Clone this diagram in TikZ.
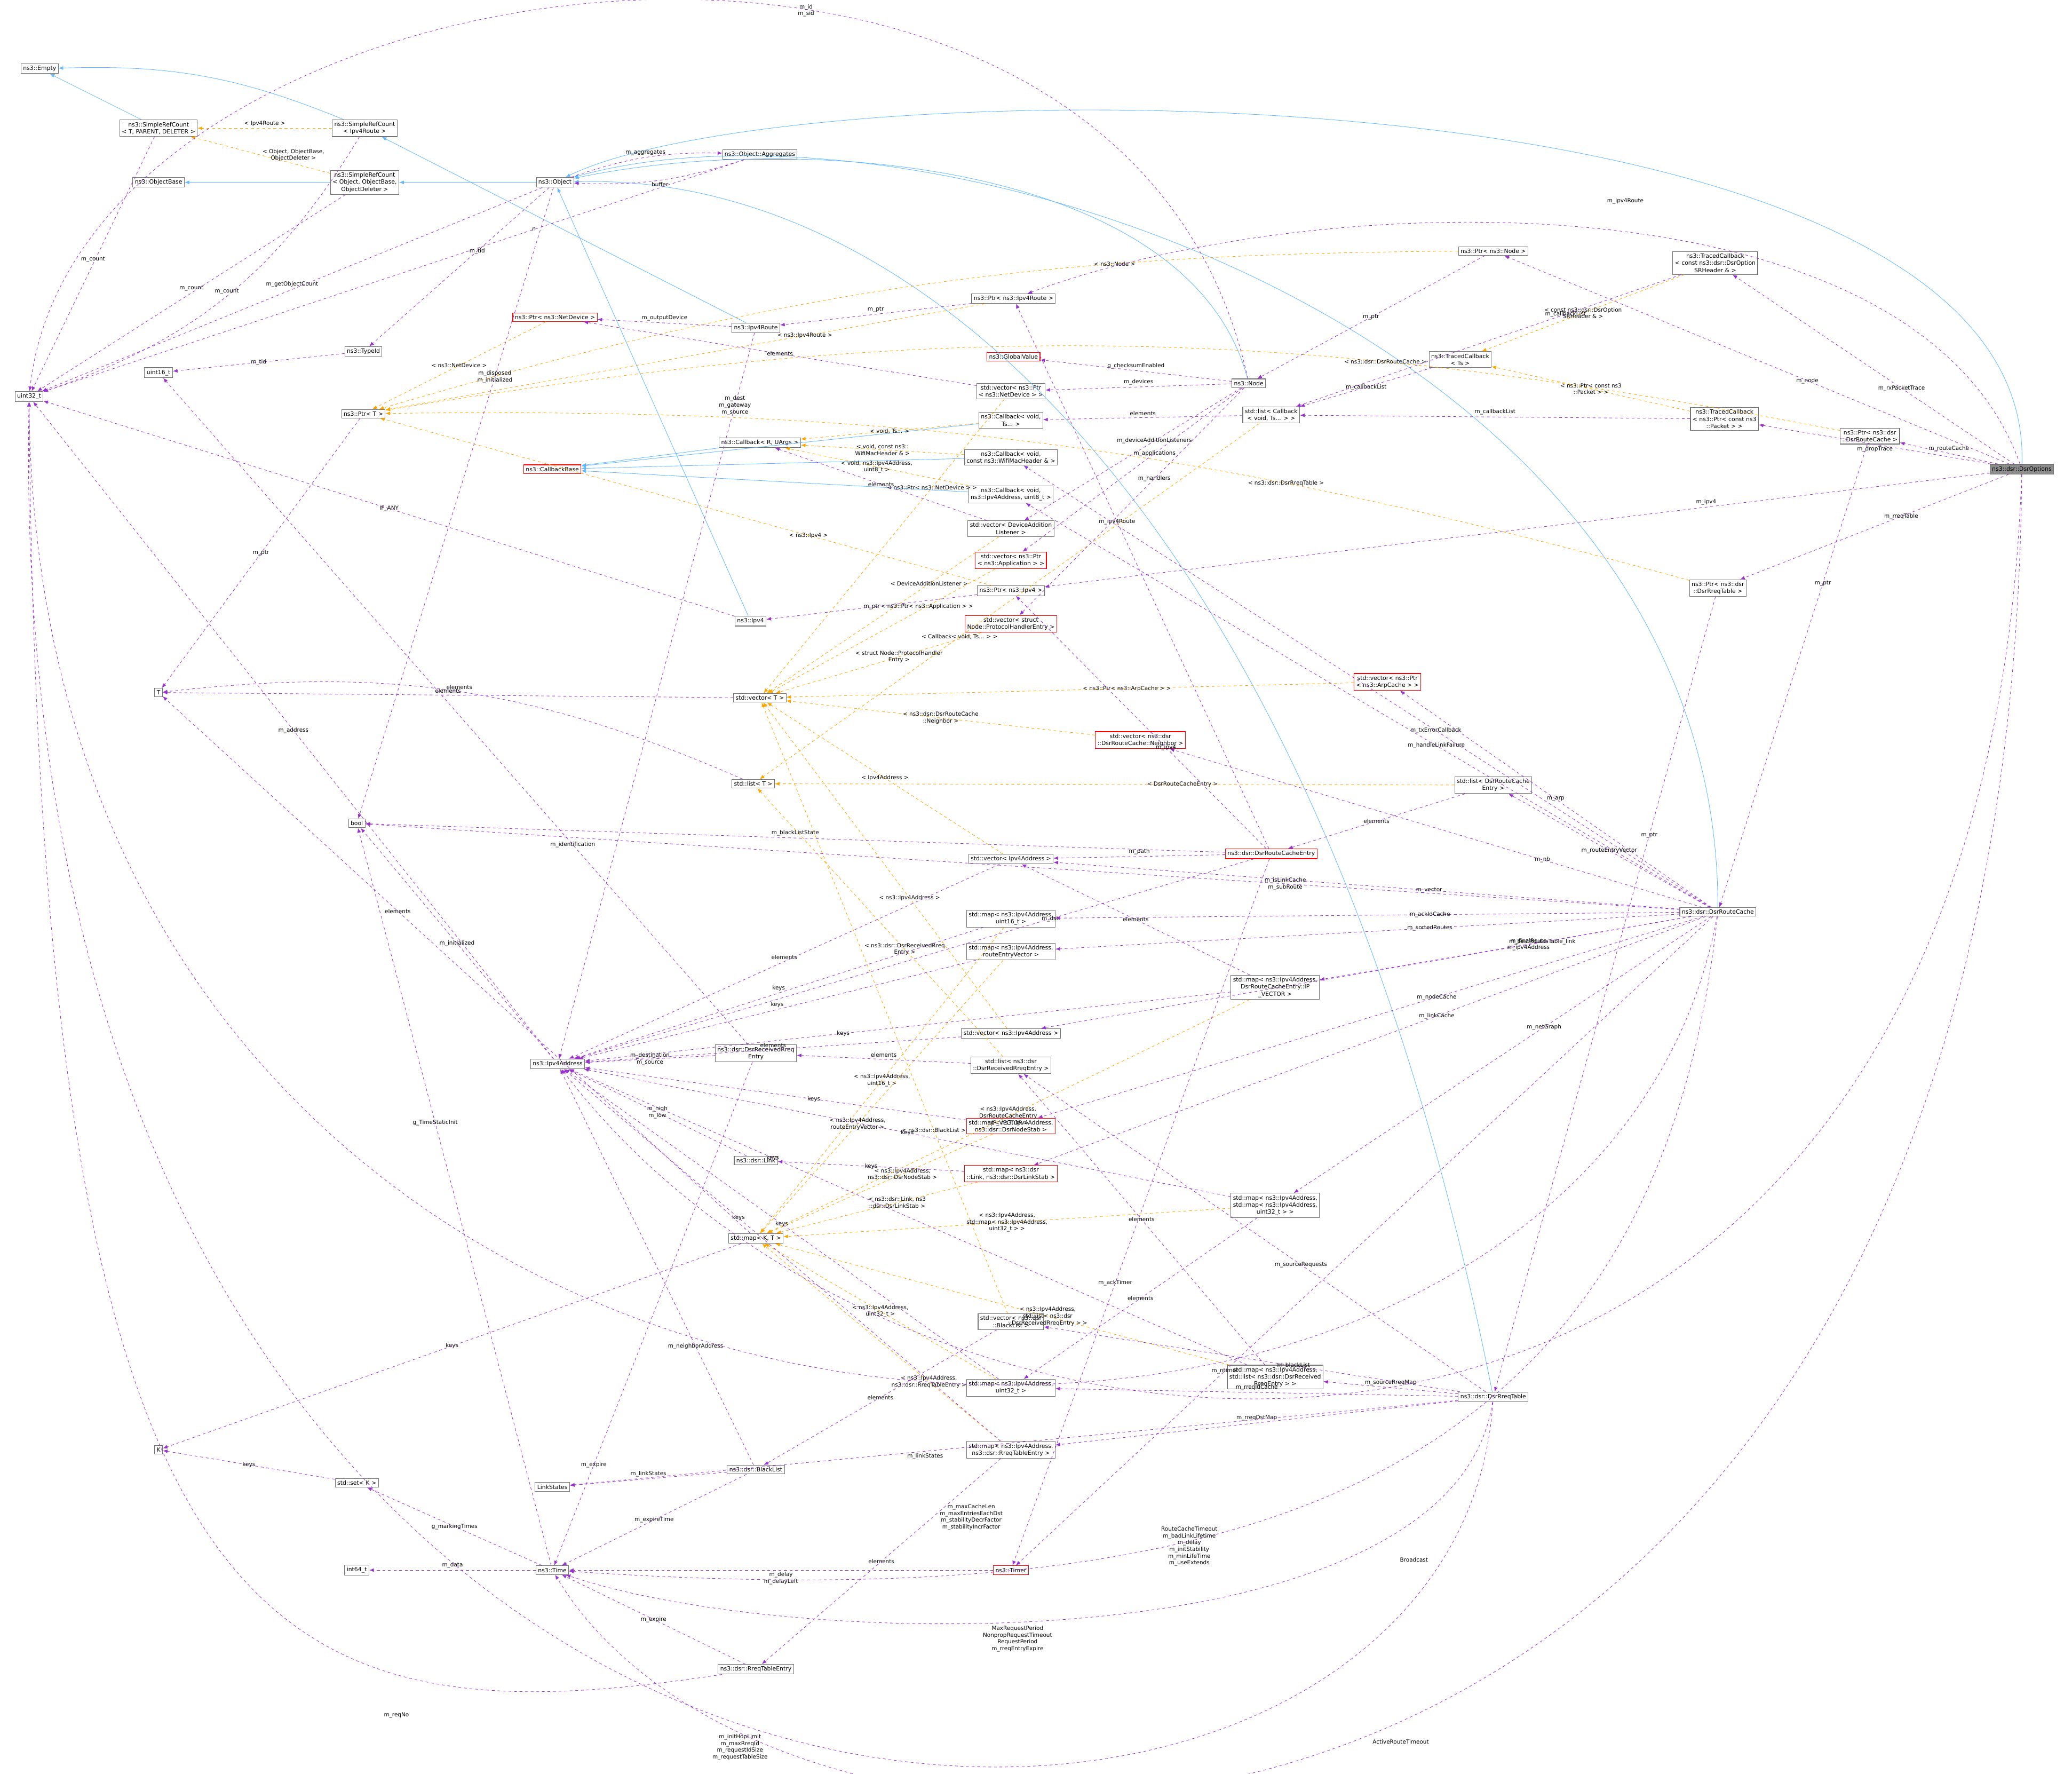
\documentclass[tikz,border=0pt]{standalone}
\usepackage{fontspec}
\setmainfont{DejaVu Sans}
\usetikzlibrary{arrows.meta,positioning}
\definecolor{memc}{HTML}{9A32CD}
\definecolor{tplc}{HTML}{FFA500}
\definecolor{inhc}{HTML}{63B8FF}
\tikzset{
  cls/.style={draw=black!55, line width=0.25pt, fill=white, inner sep=0.9pt, align=center, font=\fontsize{2.5}{3.05}\selectfont},
  redcls/.style={cls, draw=red},
  mem/.style={draw=memc, line width=0.2pt, dash pattern=on 1.2pt off 1.2pt, -{Latex[length=2pt,width=1.6pt]}},
  tpl/.style={draw=tplc, line width=0.2pt, dash pattern=on 1.2pt off 1.2pt, -{Latex[length=2pt,width=1.6pt]}},
  inh/.style={draw=inhc, line width=0.2pt, -{Latex[length=2pt,width=1.6pt]}},
  freelbl/.style={fill=none, inner sep=0.8pt, align=center, font=\fontsize{2.4}{2.9}\selectfont, text=black},
  lbl/.style={midway, freelbl}
}
\begin{document}
\begin{tikzpicture}[x=0.02cm, y=-0.02cm]
\useasboundingbox (0,0) rectangle (1568,1342);
% left column
\node[cls] (empty) at (30,52) {ns3::Empty};
\node[cls] (srcT) at (120,97) {ns3::SimpleRefCount\\< T, PARENT, DELETER >};
\node[cls] (srcRoute) at (276,97) {ns3::SimpleRefCount\\< Ipv4Route >};
\node[cls] (objbase) at (120,138) {ns3::ObjectBase};
\node[cls] (srcObj) at (276,138) {ns3::SimpleRefCount\\< Object, ObjectBase,\\ObjectDeleter >};
\node[cls] (uint) at (22,300) {uint32\_t};
\node[cls] (uintsixteen) at (120,282) {uint16\_t};
\node[cls] (T) at (120,524) {T};
\node[cls] (K) at (120,1097) {K};
\node[cls] (setK) at (270,1122) {std::set< K >};
\node[cls] (int64) at (270,1188) {int64\_t};
\node[cls] (typeid) at (275,266) {ns3::TypeId};
\node[cls] (ptrT) at (275,313) {ns3::Ptr< T >};
\node[cls] (bool) at (270,623) {bool};
% second column
\node[cls] (object) at (420,138) {ns3::Object};
\node[redcls] (ptrDev) at (420,240) {ns3::Ptr< ns3::NetDevice >};
\node[redcls] (cbBase) at (418,355) {ns3::CallbackBase};
\node[cls] (addr) at (422,805) {ns3::Ipv4Address};
\node[cls] (linkstates) at (418,1125) {LinkStates};
\node[cls] (time) at (418,1188) {ns3::Time};
% third column
\node[cls] (aggr) at (575,117) {ns3::Object::Aggregates};
\node[cls] (ipvRoute) at (572,248) {ns3::Ipv4Route};
\node[cls] (cbR) at (575,335) {ns3::Callback< R, UArgs >};
\node[cls] (ipv) at (568,470) {ns3::Ipv4};
\node[cls] (vecT) at (575,528) {std::vector< T >};
\node[cls] (listT) at (570,593) {std::list< T >};
\node[cls] (rreqEntry) at (572,797) {ns3::dsr::DsrReceivedRreq\\Entry};
\node[cls] (link) at (572,878) {ns3::dsr::Link};
\node[cls] (mapKT) at (572,937) {std::map< K, T >};
\node[cls] (blacklist) at (572,1112) {ns3::dsr::BlackList};
\node[cls] (rreqTE) at (572,1263) {ns3::dsr::RreqTableEntry};
% fourth column
\node[cls] (ptrRoute) at (767,226) {ns3::Ptr< ns3::Ipv4Route >};
\node[redcls] (globalv) at (767,270) {ns3::GlobalValue};
\node[cls] (vecDev) at (765,296) {std::vector< ns3::Ptr\\< ns3::NetDevice > >};
\node[cls] (cbVoid) at (765,318) {ns3::Callback< void,\\Ts... >};
\node[cls] (cbWifi) at (765,346) {ns3::Callback< void,\\const ns3::WifiMacHeader \& >};
\node[cls] (cbIpv) at (765,374) {ns3::Callback< void,\\ns3::Ipv4Address, uint8\_t >};
\node[cls] (vecListener) at (765,400) {std::vector< DeviceAddition\\Listener >};
\node[redcls] (vecApp) at (765,424) {std::vector< ns3::Ptr\\< ns3::Application > >};
\node[cls] (ptrIpv) at (765,447) {ns3::Ptr< ns3::Ipv4 >};
\node[redcls] (vecHandler) at (765,472) {std::vector< struct\\Node::ProtocolHandlerEntry >};
\node[cls] (vecAddr) at (765,650) {std::vector< Ipv4Address >};
\node[cls] (mapId) at (765,695) {std::map< ns3::Ipv4Address,\\uint16\_t >};
\node[cls] (mapSorted) at (765,720) {std::map< ns3::Ipv4Address,\\routeEntryVector >};
\node[cls] (vecAddr2) at (765,782) {std::vector< ns3::Ipv4Address >};
\node[cls] (listRreq) at (765,806) {std::list< ns3::dsr\\::DsrReceivedRreqEntry >};
\node[redcls] (mapNode) at (765,852) {std::map< ns3::Ipv4Address,\\ns3::dsr::DsrNodeStab >};
\node[redcls] (mapLink) at (765,888) {std::map< ns3::dsr\\::Link, ns3::dsr::DsrLinkStab >};
\node[cls] (vecBlack) at (765,1000) {std::vector< ns3::dsr\\::BlackList >};
\node[cls] (mapUint) at (765,1050) {std::map< ns3::Ipv4Address,\\uint32\_t >};
\node[cls] (mapRreq) at (765,1097) {std::map< ns3::Ipv4Address,\\ns3::dsr::RreqTableEntry >};
\node[redcls] (timer) at (765,1188) {ns3::Timer};
% fifth column
\node[cls] (node) at (945,290) {ns3::Node};
\node[cls] (listCb) at (962,314) {std::list< Callback\\< void, Ts... > >};
\node[redcls] (vecNb) at (863,560) {std::vector< ns3::dsr\\::DsrRouteCache::Neighbor >};
\node[redcls] (entry) at (962,646) {ns3::dsr::DsrRouteCacheEntry};
\node[cls] (mapIpvec) at (965,747) {std::map< ns3::Ipv4Address,\\DsrRouteCacheEntry::IP\\\_VECTOR >};
\node[cls] (mapNet) at (965,912) {std::map< ns3::Ipv4Address,\\std::map< ns3::Ipv4Address,\\uint32\_t > >};
\node[cls] (mapSrc) at (965,1042) {std::map< ns3::Ipv4Address,\\std::list< ns3::dsr::DsrReceived\\RreqEntry > >};
\node[redcls] (vecArp) at (1050,516) {std::vector< ns3::Ptr\\< ns3::ArpCache > >};
% right columns
\node[cls] (ptrNode) at (1130,190) {ns3::Ptr< ns3::Node >};
\node[cls] (tcTs) at (1105,272) {ns3::TracedCallback\\< Ts >};
\node[cls] (listEntry) at (1130,594) {std::list< DsrRouteCache\\Entry >};
\node[cls] (rreqTable) at (1130,1057) {ns3::dsr::DsrRreqTable};
\node[cls] (tcOpt) at (1298,199) {ns3::TracedCallback\\< const ns3::dsr::DsrOption\\SRHeader \& >};
\node[cls] (tcPkt) at (1305,317) {ns3::TracedCallback\\< ns3::Ptr< const ns3\\::Packet > >};
\node[cls] (ptrRreq) at (1300,445) {ns3::Ptr< ns3::dsr\\::DsrRreqTable >};
\node[cls] (cache) at (1300,690) {ns3::dsr::DsrRouteCache};
\node[cls] (ptrCache) at (1415,330) {ns3::Ptr< ns3::dsr\\::DsrRouteCache >};
\node[cls, fill=black!45] (options) at (1530,355) {ns3::dsr::DsrOptions};
% inheritance
\draw[inh] (srcT) -- (empty);
\draw[inh] (srcRoute) to[bend right=12] (empty);
\draw[inh] (srcObj) -- (objbase);
\draw[inh] (object) -- (srcObj);
\draw[inh] (ipvRoute) -- (srcRoute);
\draw[inh] (ipv) -- (object);
\draw[inh] (node) .. controls (900,120) and (600,100) .. (object);
\draw[inh] (cache) .. controls (1300,250) and (700,60) .. (object);
\draw[inh] (rreqTable) .. controls (1000,400) and (700,130) .. (object);
\draw[inh] (options) .. controls (1540,40) and (600,50) .. (object);
\draw[inh] (cbR) -- (cbBase);
\draw[inh] (cbVoid) -- (cbBase);
\draw[inh] (cbWifi) -- (cbBase);
\draw[inh] (cbIpv) -- (cbBase);
% templates
\draw[tpl] (srcRoute) -- (srcT) node[lbl, above]{< Ipv4Route >};
\draw[tpl] (srcObj) -- (srcT) node[lbl, right]{< Object, ObjectBase,\\ObjectDeleter >};
\draw[tpl] (ptrDev) -- (ptrT) node[lbl]{< ns3::NetDevice >};
\draw[tpl] (ptrRoute) -- (ptrT) node[lbl, pos=.3]{< ns3::Ipv4Route >};
\draw[tpl] (ptrNode) to[bend right=8] node[lbl, pos=.3]{< ns3::Node >} (ptrT);
\draw[tpl] (ptrIpv) -- (ptrT) node[lbl, pos=.3]{< ns3::Ipv4 >};
\draw[tpl] (ptrCache) to[bend right=10] node[lbl, pos=.3]{< ns3::dsr::DsrRouteCache >} (ptrT);
\draw[tpl] (ptrRreq) to[bend right=8] node[lbl, pos=.3]{< ns3::dsr::DsrRreqTable >} (ptrT);
\draw[tpl] (cbVoid) -- (cbR) node[lbl]{< void, Ts... >};
\draw[tpl] (cbWifi) -- (cbR) node[lbl]{< void, const ns3::\\WifiMacHeader \& >};
\draw[tpl] (cbIpv) -- (cbR) node[lbl]{< void, ns3::Ipv4Address,\\uint8\_t >};
\draw[tpl] (vecDev) -- (vecT) node[lbl, pos=.3]{< ns3::Ptr< ns3::NetDevice > >};
\draw[tpl] (vecListener) -- (vecT) node[lbl, pos=.3]{< DeviceAdditionListener >};
\draw[tpl] (vecApp) -- (vecT) node[lbl, pos=.3]{< ns3::Ptr< ns3::Application > >};
\draw[tpl] (vecHandler) -- (vecT) node[lbl, pos=.4]{< struct Node::ProtocolHandler\\Entry >};
\draw[tpl] (vecArp) -- (vecT) node[lbl, pos=.4]{< ns3::Ptr< ns3::ArpCache > >};
\draw[tpl] (vecNb) -- (vecT) node[lbl, pos=.5]{< ns3::dsr::DsrRouteCache\\::Neighbor >};
\draw[tpl] (vecAddr) -- (vecT) node[lbl, pos=.5]{< Ipv4Address >};
\draw[tpl] (vecAddr2) -- (vecT) node[lbl, pos=.4]{< ns3::Ipv4Address >};
\draw[tpl] (vecBlack) -- (vecT) node[lbl, pos=.3]{< ns3::dsr::BlackList >};
\draw[tpl] (listCb) -- (listT) node[lbl, pos=.6]{< Callback< void, Ts... > >};
\draw[tpl] (listEntry) -- (listT) node[lbl, pos=.4]{< DsrRouteCacheEntry >};
\draw[tpl] (listRreq) -- (listT) node[lbl, pos=.4]{< ns3::dsr::DsrReceivedRreq\\Entry >};
\draw[tpl] (tcOpt) -- (tcTs) node[lbl]{< const ns3::dsr::DsrOption\\SRHeader \& >};
\draw[tpl] (tcPkt) -- (tcTs) node[lbl]{< ns3::Ptr< const ns3\\::Packet > >};
\draw[tpl] (mapId) -- (mapKT) node[lbl, pos=.5]{< ns3::Ipv4Address,\\uint16\_t >};
\draw[tpl] (mapSorted) -- (mapKT) node[lbl, pos=.6]{< ns3::Ipv4Address,\\routeEntryVector >};
\draw[tpl] (mapNode) -- (mapKT) node[lbl, pos=.4]{< ns3::Ipv4Address,\\ns3::dsr::DsrNodeStab >};
\draw[tpl] (mapLink) -- (mapKT) node[lbl, pos=.4]{< ns3::dsr::Link, ns3\\::dsr::DsrLinkStab >};
\draw[tpl] (mapIpvec) -- (mapKT) node[lbl, pos=.5]{< ns3::Ipv4Address,\\DsrRouteCacheEntry\\::IP\_VECTOR >};
\draw[tpl] (mapNet) -- (mapKT) node[lbl, pos=.5]{< ns3::Ipv4Address,\\std::map< ns3::Ipv4Address,\\uint32\_t > >};
\draw[tpl] (mapSrc) -- (mapKT) node[lbl, pos=.4]{< ns3::Ipv4Address,\\std::list< ns3::dsr\\::DsrReceivedRreqEntry > >};
\draw[tpl] (mapUint) -- (mapKT) node[lbl, pos=.5]{< ns3::Ipv4Address,\\uint32\_t >};
\draw[tpl] (mapRreq) -- (mapKT) node[lbl, pos=.3]{< ns3::Ipv4Address,\\ns3::dsr::RreqTableEntry >};
% members
\draw[mem] (srcT) -- (uint) node[lbl, above]{m\_count};
\draw[mem] (srcRoute) to[bend left=20] node[lbl, above]{m\_count} (uint);
\draw[mem] (srcObj) -- (uint) node[lbl, above]{m\_count};
\draw[mem] (object) -- (uint) node[lbl, above]{m\_getObjectCount};
\draw[mem] (aggr) -- (uint) node[lbl, pos=.3]{n};
\draw[mem] (node) .. controls (850,-150) and (60,-40) .. (uint);
\node[freelbl] at (610,8) {m\_id\\m\_sid};
\draw[mem] (object) -- (typeid) node[lbl, pos=.4]{m\_tid};
\draw[mem] (object) -- (bool) node[lbl, pos=.3]{m\_disposed\\m\_initialized};
\draw[mem] (object) to[bend left=10] node[lbl, above]{m\_aggregates} (aggr);
\draw[mem] (aggr) to[bend left=10] node[lbl, below]{buffer} (object);
\draw[mem] (typeid) -- (uintsixteen) node[lbl]{m\_tid};
\draw[mem] (ipvRoute) -- (ptrDev) node[lbl, above]{m\_outputDevice};
\draw[mem] (ipvRoute) -- (addr) node[lbl, pos=.1]{m\_dest\\m\_gateway\\m\_source};
\draw[mem] (ptrT) -- (T) node[lbl]{m\_ptr};
\draw[mem] (ptrRoute) -- (ipvRoute) node[lbl, above]{m\_ptr};
\draw[mem] (ptrNode) -- (node) node[lbl]{m\_ptr};
\draw[mem] (ptrIpv) -- (ipv) node[lbl]{m\_ptr};
\draw[mem] (ptrCache) -- (cache) node[lbl, pos=.3]{m\_ptr};
\draw[mem] (ptrRreq) -- (rreqTable) node[lbl, pos=.3]{m\_ptr};
\draw[mem] (ipv) -- (uint) node[lbl]{IF\_ANY};
\draw[mem] (node) -- (globalv) node[lbl, above]{g\_checksumEnabled};
\draw[mem] (node) -- (vecDev) node[lbl, above]{m\_devices};
\draw[mem] (node) -- (vecListener) node[lbl, pos=.4]{m\_deviceAdditionListeners};
\draw[mem] (node) -- (vecApp) node[lbl, pos=.4]{m\_applications};
\draw[mem] (node) -- (vecHandler) node[lbl, pos=.4]{m\_handlers};
\draw[mem] (vecDev) -- (ptrDev) node[lbl]{elements};
\draw[mem] (vecListener) -- (cbR) node[lbl]{elements};
\draw[mem] (listCb) -- (cbVoid) node[lbl, above]{elements};
\draw[mem] (tcTs) -- (listCb) node[lbl]{m\_callbackList};
\draw[mem] (tcOpt) -- (listCb) node[lbl, pos=.3]{m\_callbackList};
\draw[mem] (tcPkt) -- (listCb) node[lbl, above]{m\_callbackList};
\draw[mem] (vecT) -- (T) node[lbl, above]{elements};
\draw[mem] (listT) to[bend right=15] node[lbl, above]{elements} (T);
\draw[mem] (listEntry) -- (entry) node[lbl]{elements};
\draw[mem] (entry) -- (bool) node[lbl, above]{m\_blackListState};
\draw[mem] (entry) -- (vecAddr) node[lbl, above]{m\_path};
\draw[mem] (entry) -- (addr) node[lbl, pos=.3]{m\_dst};
\draw[mem] (entry) -- (ptrRoute) node[lbl, pos=.6]{m\_ipv4Route};
\draw[mem] (entry) -- (ptrIpv) node[lbl, pos=.4]{m\_ipv4};
\draw[mem] (entry) -- (timer) node[lbl, pos=.6]{m\_ackTimer};
\draw[mem] (vecAddr) -- (addr) node[lbl, above]{elements};
\draw[mem] (vecAddr2) -- (addr) node[lbl, above]{elements};
\draw[mem] (mapId) -- (addr) node[lbl, above]{keys};
\draw[mem] (mapSorted) -- (addr) node[lbl, above]{keys};
\draw[mem] (mapIpvec) -- (addr) node[lbl, pos=.6]{keys};
\draw[mem] (mapNode) -- (addr) node[lbl, pos=.4]{keys};
\draw[mem] (mapNet) -- (addr) node[lbl, pos=.5]{keys};
\draw[mem] (mapUint) -- (addr) node[lbl, pos=.5]{keys};
\draw[mem] (mapRreq) -- (addr) node[lbl, pos=.6]{keys};
\draw[mem] (mapSrc) -- (addr) node[lbl, pos=.7]{keys};
\draw[mem] (mapLink) -- (link) node[lbl]{keys};
\draw[mem] (listRreq) -- (rreqEntry) node[lbl, above]{elements};
\draw[mem] (vecBlack) -- (blacklist) node[lbl]{elements};
\draw[mem] (mapRreq) -- (rreqTE) node[lbl]{elements};
\draw[mem] (mapSrc) -- (listRreq) node[lbl]{elements};
\draw[mem] (mapNet) -- (mapUint) node[lbl]{elements};
\draw[mem] (mapIpvec) -- (vecAddr) node[lbl]{elements};
\draw[mem] (mapKT) -- (K) node[lbl]{keys};
\draw[mem] (mapKT) -- (T) node[lbl, pos=.6]{elements};
\draw[mem] (setK) -- (K) node[lbl]{keys};
\draw[mem] (addr) -- (uint) node[lbl]{m\_address};
\draw[mem] (addr) -- (bool) node[lbl]{m\_initialized};
\draw[mem] (rreqEntry) -- (addr) node[lbl]{m\_destination\\m\_source};
\draw[mem] (rreqEntry) -- (uintsixteen) node[lbl, pos=.3]{m\_identification};
\draw[mem] (rreqEntry) -- (time) node[lbl, pos=.8]{m\_expire};
\draw[mem] (link) -- (addr) node[lbl]{m\_high\\m\_low};
\draw[mem] (blacklist) -- (addr) node[lbl, pos=.3]{m\_neighborAddress};
\draw[mem] (blacklist) -- (linkstates) node[lbl, above]{m\_linkStates};
\draw[mem] (blacklist) -- (time) node[lbl]{m\_expireTime};
\draw[mem] (rreqTE) -- (time) node[lbl]{m\_expire};
\draw[mem] (rreqTE) .. controls (200,1320) and (30,1250) .. (uint);
\node[freelbl] at (300,1298) {m\_reqNo};
\draw[mem] (time) -- (setK) node[lbl]{g\_markingTimes};
\draw[mem] (time) -- (int64) node[lbl, above]{m\_data};
\draw[mem] (time) -- (bool) node[lbl, pos=.6]{g\_TimeStaticInit};
\draw[mem] (timer) -- (time) node[lbl, below]{m\_delay\\m\_delayLeft};
% route cache
\draw[mem] (cache) -- (cbWifi) node[lbl, pos=.4]{m\_txErrorCallback};
\draw[mem] (cache) -- (cbIpv) node[lbl, pos=.4]{m\_handleLinkFailure};
\draw[mem] (cache) -- (vecArp) node[lbl]{m\_arp};
\draw[mem] (cache) -- (bool) node[lbl, pos=.3]{m\_isLinkCache\\m\_subRoute};
\draw[mem] (cache) -- (listEntry) node[lbl]{m\_routeEntryVector};
\draw[mem] (cache) -- (vecNb) node[lbl, pos=.3]{m\_nb};
\draw[mem] (cache) -- (vecAddr) node[lbl, pos=.4]{m\_vector};
\draw[mem] (cache) -- (mapId) node[lbl, pos=.4]{m\_ackIdCache};
\draw[mem] (cache) -- (mapSorted) node[lbl, pos=.4]{m\_sortedRoutes};
\draw[mem] (cache) -- (mapIpvec) node[lbl, pos=.4]{m\_bestRoutesTable\_link};
\draw[mem] (cache) -- (mapNode) node[lbl, pos=.4]{m\_nodeCache};
\draw[mem] (cache) -- (vecAddr2) node[lbl, pos=.25]{m\_finalRoute\\m\_ipv4Address};
\draw[mem] (cache) -- (mapLink) node[lbl, pos=.4]{m\_linkCache};
\draw[mem] (cache) -- (mapNet) node[lbl, pos=.4]{m\_netGraph};
\draw[mem] (cache) -- (timer) node[lbl, pos=.7]{m\_ntimer};
\draw[mem] (cache) .. controls (1250,1150) and (900,1220) .. (time);
\node[freelbl] at (900,1170) {RouteCacheTimeout\\m\_badLinkLifetime\\m\_delay\\m\_initStability\\m\_minLifeTime\\m\_useExtends};
\draw[mem] (cache) .. controls (1200,1230) and (30,1200) .. (uint);
\node[freelbl] at (735,1148) {m\_maxCacheLen\\m\_maxEntriesEachDst\\m\_stabilityDecrFactor\\m\_stabilityIncrFactor};
% rreq table
\draw[mem] (rreqTable) -- (listRreq) node[lbl, pos=.4]{m\_sourceRequests};
\draw[mem] (rreqTable) -- (vecBlack) node[lbl, pos=.4]{m\_blackList};
\draw[mem] (rreqTable) -- (mapSrc) node[lbl, above]{m\_sourceRreqMap};
\draw[mem] (rreqTable) -- (mapUint) node[lbl, above]{m\_rreqIdCache};
\draw[mem] (rreqTable) -- (mapRreq) node[lbl, above]{m\_rreqDstMap};
\draw[mem] (rreqTable) -- (linkstates) node[lbl, pos=.6, below]{m\_linkStates};
\draw[mem] (rreqTable) .. controls (1100,1260) and (600,1250) .. (time);
\node[freelbl] at (770,1240) {MaxRequestPeriod\\NonpropRequestTimeout\\RequestPeriod\\m\_rreqEntryExpire};
\draw[mem] (rreqTable) .. controls (1100,1510) and (0,1510) .. (uint);
\node[freelbl] at (560,1322) {m\_initHopLimit\\m\_maxRreqId\\m\_requestIdSize\\m\_requestTableSize};
% options
\draw[mem] (options) .. controls (1450,130) and (1000,140) .. (ptrRoute);
\node[freelbl] at (1230,152) {m\_ipv4Route};
\draw[mem] (options) -- (ptrNode) node[lbl, pos=.4]{m\_node};
\draw[mem] (options) -- (tcOpt) node[lbl, pos=.4]{m\_rxPacketTrace};
\draw[mem] (options) -- (ptrCache) node[lbl, above]{m\_routeCache};
\draw[mem] (options) -- (tcPkt) node[lbl, below]{m\_dropTrace};
\draw[mem] (options) -- (ptrRreq) node[lbl, pos=.4]{m\_rreqTable};
\draw[mem] (options) -- (ptrIpv) node[lbl, pos=.3, above]{m\_ipv4};
\draw[mem] (options) .. controls (1500,1230) and (700,1170) .. (addr);
\node[freelbl] at (1070,1180) {Broadcast};
\draw[mem] (options) .. controls (1520,1490) and (600,1490) .. (time);
\node[freelbl] at (1060,1318) {ActiveRouteTimeout};
\end{tikzpicture}
\end{document}
